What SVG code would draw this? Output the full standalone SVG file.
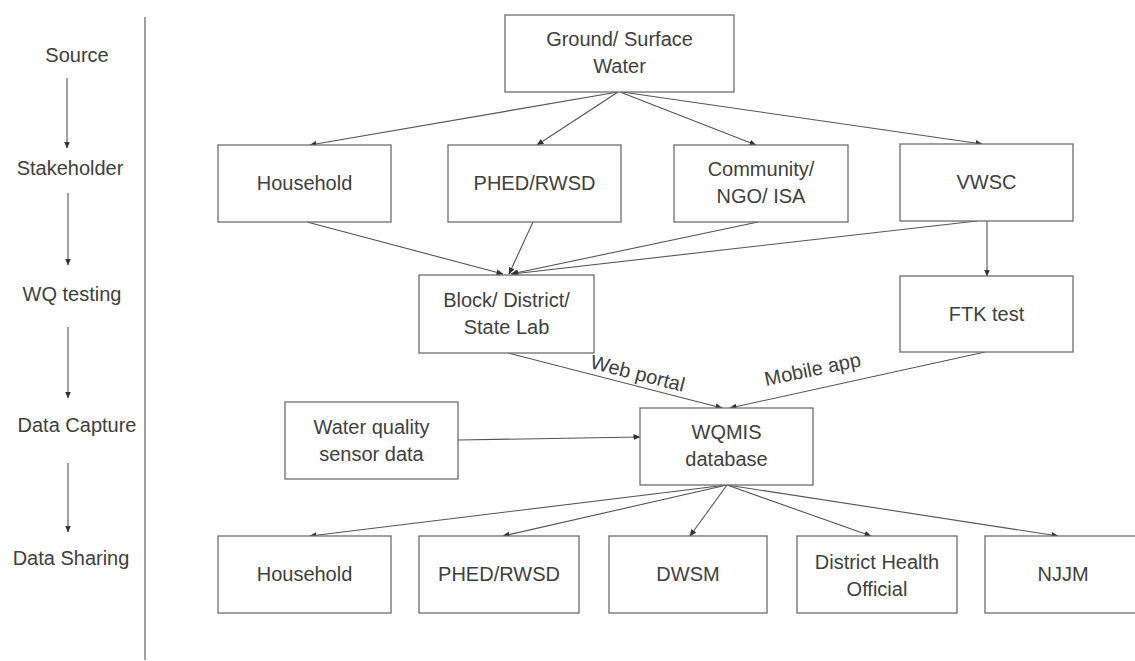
<svg xmlns="http://www.w3.org/2000/svg" width="1135" height="661" viewBox="0 0 1135 661">
  <defs>
    <marker id="arrow" markerUnits="userSpaceOnUse" markerWidth="7" markerHeight="6" refX="6.5" refY="3" orient="auto">
      <path d="M0,0 L7,3 L0,6 z" fill="#333"/>
    </marker>
    <style>
      .box { fill: #fff; stroke: #6e6e6e; stroke-width: 1.3; }
      .lbl { font-family: "Liberation Sans", Arial, sans-serif; font-size: 20px; fill: #404040; text-anchor: middle; }
      .edge { fill: none; stroke: #555; stroke-width: 1.1; marker-end: url(#arrow); }
      .rule { stroke: #6e6e6e; stroke-width: 1.3; }
    </style>
  </defs>
  <rect width="1135" height="661" fill="#fff"/>

  <!-- stage column -->
  <g id="stages">
    <line class="rule" x1="145" y1="17" x2="145" y2="660"/>
    <text class="lbl" x="77" y="62">Source</text>
    <text class="lbl" x="70" y="175">Stakeholder</text>
    <text class="lbl" x="72" y="301">WQ testing</text>
    <text class="lbl" x="77" y="432">Data Capture</text>
    <text class="lbl" x="71" y="565">Data Sharing</text>
    <line class="edge" x1="67" y1="78" x2="67" y2="148"/>
    <line class="edge" x1="68" y1="193" x2="68" y2="265"/>
    <line class="edge" x1="68" y1="327" x2="68" y2="398"/>
    <line class="edge" x1="68" y1="463" x2="68" y2="532"/>
  </g>

  <!-- connectors -->
  <g id="connectors">
    <line class="edge" x1="618" y1="92" x2="310" y2="145"/>
    <line class="edge" x1="618" y1="92" x2="537" y2="145"/>
    <line class="edge" x1="620" y1="92" x2="756" y2="145"/>
    <line class="edge" x1="622" y1="92" x2="982" y2="144"/>

    <line class="edge" x1="307" y1="222" x2="503" y2="274"/>
    <line class="edge" x1="533" y1="222" x2="509" y2="274"/>
    <line class="edge" x1="758" y1="222" x2="511" y2="274"/>
    <line class="edge" x1="977" y1="221" x2="512" y2="274"/>
    <line class="edge" x1="987" y1="221" x2="987" y2="276"/>

    <line class="edge" x1="508" y1="353" x2="722" y2="408"/>
    <line class="edge" x1="985" y1="352" x2="730" y2="408"/>
    <line class="edge" x1="458" y1="440" x2="640" y2="437"/>

    <line class="edge" x1="727" y1="485" x2="310" y2="536"/>
    <line class="edge" x1="727" y1="485" x2="503" y2="536"/>
    <line class="edge" x1="727" y1="485" x2="690" y2="536"/>
    <line class="edge" x1="727" y1="485" x2="871" y2="536"/>
    <line class="edge" x1="727" y1="485" x2="1058" y2="536"/>

    <text class="lbl" transform="translate(636 380) rotate(14.3)">Web portal</text>
    <text class="lbl" transform="translate(814 376) rotate(-11.8)">Mobile app</text>
  </g>

  <!-- source -->
  <g id="ground-surface-water">
    <rect class="box" x="505" y="15" width="229" height="77"/>
    <text class="lbl" x="619.5" y="46">Ground/ Surface</text>
    <text class="lbl" x="619.5" y="73">Water</text>
  </g>

  <!-- stakeholders -->
  <g id="household-top">
    <rect class="box" x="218" y="145" width="173" height="77"/>
    <text class="lbl" x="304.5" y="190">Household</text>
  </g>
  <g id="phed-rwsd-top">
    <rect class="box" x="448" y="145" width="173" height="77"/>
    <text class="lbl" x="534.5" y="190">PHED/RWSD</text>
  </g>
  <g id="community-ngo-isa">
    <rect class="box" x="674" y="145" width="174" height="77"/>
    <text class="lbl" x="761" y="176">Community/</text>
    <text class="lbl" x="761" y="203">NGO/ ISA</text>
  </g>
  <g id="vwsc">
    <rect class="box" x="900" y="144" width="173" height="77"/>
    <text class="lbl" x="986.5" y="189">VWSC</text>
  </g>

  <!-- testing -->
  <g id="block-district-state-lab">
    <rect class="box" x="419" y="275" width="175" height="78"/>
    <text class="lbl" x="506.5" y="307">Block/ District/</text>
    <text class="lbl" x="506.5" y="334">State Lab</text>
  </g>
  <g id="ftk-test">
    <rect class="box" x="900" y="276" width="173" height="76"/>
    <text class="lbl" x="986.5" y="321">FTK test</text>
  </g>

  <!-- data capture -->
  <g id="sensor-data">
    <rect class="box" x="285" y="402" width="173" height="77"/>
    <text class="lbl" x="371.5" y="434">Water quality</text>
    <text class="lbl" x="371.5" y="461">sensor data</text>
  </g>
  <g id="wqmis-database">
    <rect class="box" x="640" y="408" width="173" height="77"/>
    <text class="lbl" x="726.5" y="439">WQMIS</text>
    <text class="lbl" x="726.5" y="466">database</text>
  </g>

  <!-- data sharing -->
  <g id="household-bottom">
    <rect class="box" x="218" y="536" width="173" height="77"/>
    <text class="lbl" x="304.5" y="581">Household</text>
  </g>
  <g id="phed-rwsd-bottom">
    <rect class="box" x="419" y="536" width="160" height="77"/>
    <text class="lbl" x="499" y="581">PHED/RWSD</text>
  </g>
  <g id="dwsm">
    <rect class="box" x="609" y="536" width="158" height="77"/>
    <text class="lbl" x="688" y="581">DWSM</text>
  </g>
  <g id="district-health-official">
    <rect class="box" x="797" y="536" width="160" height="77"/>
    <text class="lbl" x="877" y="569">District Health</text>
    <text class="lbl" x="877" y="596">Official</text>
  </g>
  <g id="njjm">
    <rect class="box" x="985" y="536" width="160" height="77"/>
    <text class="lbl" x="1063" y="581">NJJM</text>
  </g>
</svg>
